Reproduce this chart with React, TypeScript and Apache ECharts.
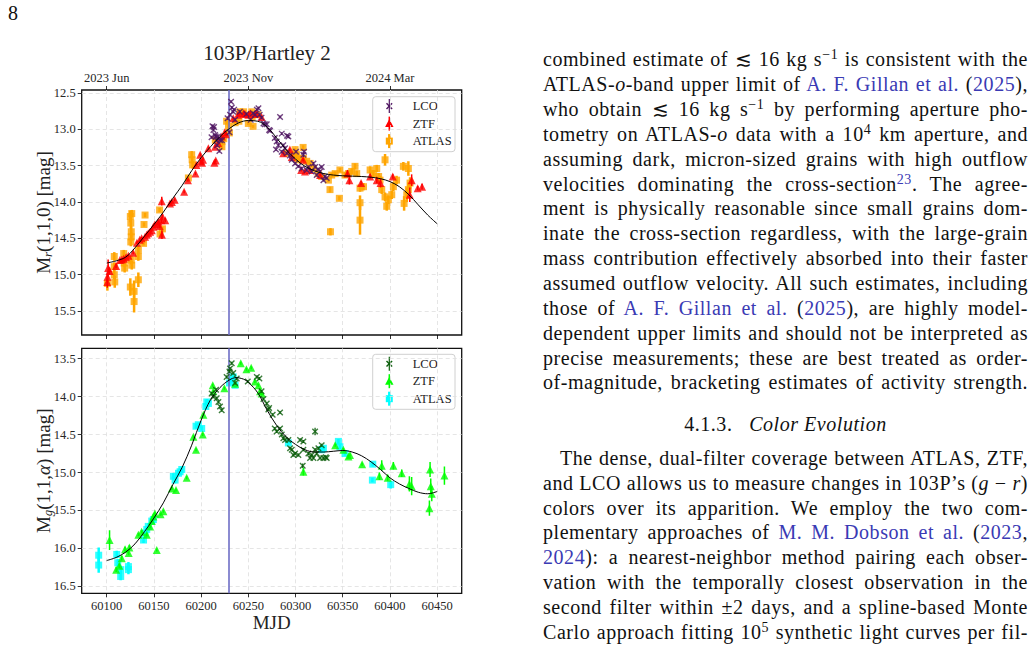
import React, { useEffect, useRef } from "react";
import * as echarts from "echarts";

type Pt = [number, number, number]; // [MJD, magnitude, error]

// ---------- axis definitions ----------
const X_MIN = 60073.5;
const X_MAX = 60476;
const TOP_MAG_MIN = 12.46;
const TOP_MAG_MAX = 15.83;
const BOT_MAG_MIN = 13.363;
const BOT_MAG_MAX = 16.592;
const MJD_TICKS = [60100, 60150, 60200, 60250, 60300, 60350, 60400, 60450];
const DATE_TICKS = [60100, 60250, 60400];
const DATE_LABELS = ["2023 Jun", "2023 Nov", "2024 Mar"];
const TOP_MAG_TICKS = [12.5, 13.0, 13.5, 14.0, 14.5, 15.0, 15.5];
const BOT_MAG_TICKS = [13.5, 14.0, 14.5, 15.0, 15.5, 16.0, 16.5];
const PERIHELION_MJD = 60229;

// ---------- r-band (top panel) ----------
const topLCO: Pt[] = [
  [60211, 13.11, 0.02], [60212, 12.96, 0.02], [60213, 13.01, 0.02], [60213.7, 12.97, 0.02],
  [60214.8, 13.08, 0.02], [60215.5, 13.10, 0.02], [60216.5, 13.15, 0.02], [60217, 13.22, 0.02],
  [60218, 13.10, 0.02], [60218.5, 13.13, 0.02], [60219.3, 13.30, 0.02], [60220, 13.15, 0.02],
  [60222, 13.15, 0.02], [60228, 12.85, 0.02], [60230.6, 12.80, 0.02], [60231.7, 12.62, 0.02],
  [60232.5, 12.70, 0.02], [60234, 12.76, 0.02], [60235, 12.73, 0.02], [60236, 12.87, 0.02],
  [60230, 13.04, 0.02], [60241, 12.76, 0.02], [60248, 12.79, 0.02], [60252.5, 12.87, 0.02],
  [60255, 12.78, 0.02], [60257, 12.80, 0.02], [60259, 12.73, 0.02], [60260.7, 12.71, 0.02],
  [60262, 12.80, 0.02], [60264, 12.84, 0.02], [60266, 12.92, 0.02], [60267.5, 12.93, 0.02],
  [60269.5, 12.93, 0.02], [60272, 13.01, 0.02], [60273, 13.02, 0.02], [60278, 13.12, 0.02],
  [60279.3, 13.28, 0.02], [60280, 13.17, 0.02], [60281.8, 13.22, 0.02], [60283.6, 12.83, 0.02],
  [60285.3, 13.31, 0.02], [60285.4, 13.06, 0.02], [60287, 13.22, 0.02], [60288.9, 13.26, 0.02],
  [60290.6, 13.33, 0.02], [60291, 13.09, 0.02], [60292.4, 13.10, 0.02], [60294, 13.36, 0.02],
  [60296, 13.42, 0.02], [60299.5, 13.47, 0.02], [60300.5, 13.31, 0.02], [60303, 13.51, 0.02],
  [60306.5, 13.54, 0.02], [60308.3, 13.35, 0.03], [60309, 13.31, 0.03], [60311.8, 13.56, 0.02],
  [60313.6, 13.52, 0.02], [60317, 13.58, 0.02], [60319, 13.47, 0.02], [60320.7, 13.52, 0.02],
  [60322.4, 13.63, 0.02], [60324, 13.55, 0.02], [60326, 13.58, 0.02], [60327.7, 13.52, 0.02],
  [60329.5, 13.70, 0.02], [60331, 13.65, 0.02], [60333, 13.67, 0.02],
];

const topZTF: Pt[] = [
  [60100.6, 15.10, 0.08], [60100.8, 15.03, 0.06], [60101.5, 14.91, 0.12], [60103, 14.95, 0.05],
  [60109.9, 14.88, 0.03], [60114, 14.80, 0.02], [60116, 14.79, 0.02], [60118, 14.78, 0.02],
  [60120.5, 14.76, 0.02], [60123, 14.74, 0.02], [60128, 14.70, 0.02], [60132, 14.56, 0.02],
  [60135, 14.52, 0.02], [60137, 14.50, 0.02], [60140.6, 14.48, 0.02], [60142.4, 14.45, 0.02],
  [60144, 14.43, 0.02], [60146, 14.41, 0.02], [60147.7, 14.39, 0.02], [60149.4, 14.34, 0.02],
  [60151, 14.31, 0.02], [60153.7, 14.30, 0.02], [60154.7, 14.27, 0.02], [60156, 14.33, 0.03],
  [60158, 14.25, 0.04], [60158.3, 13.99, 0.06], [60158.5, 14.45, 0.06], [60159, 14.20, 0.03],
  [60162, 14.25, 0.03], [60167, 14.02, 0.02], [60169, 14.00, 0.02], [60172, 13.97, 0.02],
  [60182, 13.86, 0.02], [60186, 13.70, 0.02], [60194, 13.61, 0.02], [60195, 13.49, 0.02],
  [60199, 13.35, 0.02], [60199.6, 13.44, 0.02], [60201, 13.46, 0.02], [60202, 13.42, 0.02],
  [60207.7, 13.26, 0.02], [60214, 13.46, 0.02], [60214.8, 13.24, 0.02], [60215.5, 13.43, 0.02],
  [60218, 13.19, 0.02], [60222, 13.10, 0.02], [60225, 13.04, 0.02], [60226, 13.07, 0.02],
  [60234, 12.85, 0.02], [60239, 12.80, 0.02], [60241, 12.78, 0.02], [60245, 12.78, 0.02],
  [60246.5, 12.79, 0.02], [60250, 12.80, 0.02], [60252, 12.78, 0.02], [60257, 12.79, 0.02],
  [60259, 12.78, 0.02], [60264, 12.83, 0.02], [60287, 13.33, 0.02], [60294, 13.28, 0.02],
  [60296, 13.38, 0.02], [60306, 13.56, 0.02], [60308, 13.42, 0.02], [60310, 13.58, 0.02],
  [60315, 13.56, 0.02], [60326, 13.63, 0.02], [60355, 13.61, 0.05], [60357, 13.70, 0.06],
  [60369.4, 13.74, 0.03], [60379, 13.65, 0.03], [60386, 13.70, 0.04], [60390, 13.74, 0.06],
  [60403, 13.65, 0.03], [60421, 13.90, 0.10], [60423, 13.70, 0.08], [60429.4, 13.81, 0.03],
  [60434, 13.79, 0.04],
];

const topATLAS: Pt[] = [
  [60100.7, 15.12, 0.10], [60108, 14.75, 0.06], [60108, 14.89, 0.06], [60108, 15.00, 0.06],
  [60108.5, 15.10, 0.08], [60118, 14.71, 0.05], [60118.5, 14.84, 0.05], [60119, 14.91, 0.06],
  [60125, 14.20, 0.08], [60125.5, 14.29, 0.08], [60126, 14.41, 0.08], [60126, 14.48, 0.06],
  [60125.5, 14.55, 0.06], [60126.5, 14.16, 0.05], [60126, 14.80, 0.06], [60126.5, 14.87, 0.06],
  [60125, 15.17, 0.12], [60129, 15.23, 0.15], [60129, 15.37, 0.15], [60133.5, 14.66, 0.06],
  [60133.5, 14.75, 0.06], [60133.5, 15.07, 0.10], [60140.6, 14.18, 0.03], [60139.5, 14.31, 0.03],
  [60139, 14.57, 0.03], [60156, 14.11, 0.03], [60156.5, 14.44, 0.03], [60159, 14.37, 0.03],
  [60186.5, 13.67, 0.03], [60190, 13.35, 0.05], [60190.5, 13.42, 0.05], [60191, 13.49, 0.05],
  [60215, 13.15, 0.03], [60222, 13.17, 0.03], [60222, 13.24, 0.03], [60224, 13.13, 0.03],
  [60227, 12.89, 0.03], [60229, 12.96, 0.03], [60230, 13.05, 0.03], [60236, 12.91, 0.02],
  [60240, 12.89, 0.02], [60241, 12.76, 0.02], [60245, 12.76, 0.02], [60250, 12.92, 0.02],
  [60253.6, 12.76, 0.02], [60254, 12.83, 0.02], [60255, 12.96, 0.02], [60260, 12.80, 0.02],
  [60290.7, 13.33, 0.02], [60297.7, 13.35, 0.02], [60299.5, 13.28, 0.02], [60301.2, 13.35, 0.02],
  [60302, 13.40, 0.02], [60303, 13.42, 0.02], [60308, 13.25, 0.03], [60308.3, 13.40, 0.02],
  [60311.8, 13.44, 0.02], [60315.4, 13.47, 0.02], [60319, 13.54, 0.02], [60324, 13.61, 0.02],
  [60327.7, 13.65, 0.02], [60334.8, 13.70, 0.03], [60336.5, 13.83, 0.04], [60337, 14.41, 0.05],
  [60338.3, 13.63, 0.03], [60342, 13.61, 0.03], [60346.4, 13.95, 0.03], [60347, 13.56, 0.03],
  [60352.4, 13.63, 0.04], [60356, 13.61, 0.04], [60359.5, 13.58, 0.04], [60363, 13.51, 0.04],
  [60364.8, 13.61, 0.04], [60368.3, 13.81, 0.05], [60368.3, 14.01, 0.10], [60368.3, 14.25, 0.20],
  [60372, 13.79, 0.05], [60379, 13.56, 0.05], [60382.5, 13.61, 0.05], [60386, 13.54, 0.05],
  [60388, 13.65, 0.05], [60389.5, 13.70, 0.06], [60391.3, 13.83, 0.06], [60394.8, 13.42, 0.08],
  [60394.8, 13.93, 0.06], [60396.6, 14.06, 0.06], [60398.3, 13.97, 0.06], [60401.9, 13.90, 0.06],
  [60403.6, 13.79, 0.06], [60407, 13.70, 0.06], [60414.2, 13.51, 0.06], [60415, 14.02, 0.10],
  [60417.8, 13.90, 0.10], [60419.5, 13.54, 0.10], [60419.5, 13.83, 0.10], [60421.3, 13.74, 0.08],
];

const topFitMjd = [60100, 60110, 60120, 60130, 60140, 60150, 60160, 60170, 60180, 60190, 60200, 60210,
  60220, 60230, 60240, 60250, 60260, 60270, 60280, 60290, 60300, 60310, 60320, 60330, 60340, 60350,
  60360, 60370, 60380, 60390, 60400, 60410, 60420, 60430, 60440, 60450];
const topFitMag = [14.84, 14.81, 14.76, 14.63, 14.47, 14.31, 14.14, 13.95, 13.77, 13.57, 13.39, 13.24,
  13.10, 12.99, 12.91, 12.88, 12.89, 12.97, 13.12, 13.28, 13.41, 13.51, 13.57, 13.61, 13.63, 13.64,
  13.645, 13.65, 13.66, 13.68, 13.72, 13.79, 13.90, 14.04, 14.18, 14.30];

// ---------- g-band (bottom panel) ----------
const botLCO: Pt[] = [
  [60211.2, 13.96, 0.02], [60213, 14.00, 0.02], [60215.8, 13.91, 0.02], [60216.5, 14.02, 0.02],
  [60218.3, 14.07, 0.02], [60220, 14.13, 0.02], [60221.8, 14.18, 0.02], [60227, 13.74, 0.02],
  [60230, 13.67, 0.02], [60230.6, 13.63, 0.02], [60232.4, 13.56, 0.02], [60234, 13.69, 0.02],
  [60236, 13.82, 0.02], [60237.7, 13.76, 0.02], [60249.4, 13.80, 0.02], [60259, 13.74, 0.02],
  [60261.7, 13.76, 0.02], [60264, 13.93, 0.02], [60266, 14.03, 0.02], [60269.5, 14.09, 0.02],
  [60271.2, 14.17, 0.02], [60272, 14.15, 0.02], [60275.8, 14.24, 0.02], [60278, 14.42, 0.02],
  [60280, 14.46, 0.02], [60283.6, 14.21, 0.02], [60283.6, 14.42, 0.02], [60285.4, 14.50, 0.02],
  [60287.1, 14.55, 0.02], [60288.9, 14.57, 0.02], [60292.4, 14.57, 0.02], [60294.2, 14.68, 0.02],
  [60296, 14.70, 0.02], [60297.7, 14.77, 0.02], [60299.5, 14.75, 0.02], [60303, 14.77, 0.02],
  [60304.8, 14.57, 0.02], [60307.6, 14.91, 0.03], [60308.3, 14.59, 0.02], [60308.3, 14.70, 0.02],
  [60313.6, 14.75, 0.02], [60315.4, 14.81, 0.02], [60317.1, 14.77, 0.02], [60318.9, 14.81, 0.02],
  [60320.7, 14.46, 0.05], [60320.7, 14.70, 0.02], [60322.4, 14.75, 0.02], [60324.2, 14.68, 0.02],
  [60326, 14.81, 0.02], [60327.7, 14.64, 0.02], [60329.5, 14.81, 0.02], [60332, 14.80, 0.02],
  [60333, 14.81, 0.02],
];

const botZTF: Pt[] = [
  [60103, 15.89, 0.13], [60110, 16.28, 0.03], [60113.4, 16.23, 0.03], [60115.9, 16.13, 0.03],
  [60119.4, 16.01, 0.03], [60123.3, 16.06, 0.03], [60124, 15.99, 0.03], [60133.5, 15.82, 0.02],
  [60137, 15.78, 0.02], [60142.4, 15.82, 0.02], [60146, 15.71, 0.02], [60147.7, 15.64, 0.02],
  [60149.4, 15.58, 0.02], [60151, 15.54, 0.02], [60153, 16.02, 0.02], [60157, 15.55, 0.02],
  [60160, 15.51, 0.02], [60169, 15.21, 0.02], [60173.4, 15.23, 0.02], [60184.7, 15.07, 0.02],
  [60191.8, 14.53, 0.02], [60194.6, 14.70, 0.02], [60201.7, 14.50, 0.02], [60202.4, 14.24, 0.02],
  [60212.3, 13.85, 0.02], [60213, 13.93, 0.02], [60224.6, 13.89, 0.02], [60236, 13.83, 0.02],
  [60242, 13.56, 0.02], [60248, 13.64, 0.02], [60253, 13.62, 0.02], [60257, 13.80, 0.02],
  [60260.7, 13.85, 0.02], [60262.4, 13.93, 0.02], [60264.2, 13.96, 0.02], [60308.3, 14.99, 0.05],
  [60342, 14.64, 0.02], [60350.7, 14.70, 0.02], [60356, 14.79, 0.02], [60357.7, 14.77, 0.02],
  [60370.5, 14.89, 0.02], [60388.8, 15.05, 0.05], [60391.3, 14.91, 0.07], [60397.6, 15.07, 0.04],
  [60403.6, 14.91, 0.05], [60412.5, 15.01, 0.05], [60420.6, 15.15, 0.10], [60423, 15.18, 0.12],
  [60441.8, 15.47, 0.10], [60442.5, 14.96, 0.10], [60443.2, 15.18, 0.10], [60444.3, 15.28, 0.10],
  [60457.7, 15.04, 0.12],
];

const botATLAS: Pt[] = [
  [60091.5, 16.09, 0.10], [60091.5, 16.22, 0.10], [60110.6, 16.08, 0.05], [60111.7, 16.19, 0.05],
  [60114.8, 16.28, 0.05], [60114.8, 16.37, 0.05], [60123, 16.24, 0.06], [60123, 16.28, 0.06],
  [60139, 15.89, 0.04], [60140.6, 15.80, 0.04], [60142.4, 15.75, 0.04], [60144, 15.71, 0.04],
  [60147.7, 15.64, 0.04], [60149.4, 15.62, 0.04], [60170.6, 15.05, 0.04], [60172.4, 15.10, 0.04],
  [60176, 15.01, 0.04], [60177.7, 14.99, 0.04], [60179.5, 14.96, 0.04], [60194.6, 14.39, 0.03],
  [60197, 14.37, 0.03], [60200.6, 14.42, 0.03], [60205, 14.13, 0.04], [60206, 14.07, 0.04],
  [60207.7, 14.09, 0.04], [60230, 13.82, 0.03], [60232.4, 13.78, 0.03], [60234, 13.74, 0.03],
  [60236, 13.85, 0.03], [60292.4, 14.61, 0.03], [60327.7, 14.70, 0.03], [60329.5, 14.68, 0.03],
  [60345.4, 14.59, 0.03], [60347, 14.66, 0.03], [60352.4, 14.75, 0.03], [60381.4, 15.10, 0.03],
  [60381.8, 14.89, 0.03], [60400.8, 15.16, 0.05],
];

const botFitMjd = [60100, 60110, 60120, 60130, 60140, 60150, 60160, 60170, 60180, 60190, 60200, 60210,
  60220, 60230, 60237, 60245, 60250, 60260, 60270, 60280, 60290, 60300, 60310, 60320, 60330, 60340,
  60350, 60360, 60370, 60380, 60390, 60400, 60410, 60420, 60430, 60440, 60450];
const botFitMag = [16.16, 16.12, 16.05, 15.94, 15.78, 15.60, 15.40, 15.16, 14.93, 14.64, 14.31, 14.04,
  13.88, 13.78, 13.75, 13.77, 13.81, 13.95, 14.18, 14.38, 14.53, 14.63, 14.70, 14.73, 14.73, 14.72,
  14.71, 14.73, 14.78, 14.86, 14.96, 15.07, 15.15, 15.21, 15.26, 15.28, 15.25];

// ---------- styling ----------
const FONT = "'Liberation Serif', 'DejaVu Serif', serif";
const C_LCO_R = "#4f1561";
const C_ZTF_R = "#ff0000";
const C_ATLAS_R = "#ffa500";
const C_LCO_G = "#0b5e0b";
const C_ZTF_G = "#00ff00";
const C_ATLAS_G = "#00ffff";
const C_PERI = "#6e6ec6";
const X_SYMBOL = "path://M0,0L10,10M10,0L0,10";

function errBars(data: Pt[], xi: number, yi: number, color: string, width: number, z: number) {
  return {
    type: "custom",
    xAxisIndex: xi,
    yAxisIndex: yi,
    z,
    silent: true,
    clip: true,
    data,
    encode: { x: 0, y: 1 },
    renderItem: (_p: any, api: any) => {
      const x = api.value(0);
      const y = api.value(1);
      const e = api.value(2);
      const a = api.coord([x, y - e]);
      const b = api.coord([x, y + e]);
      return {
        type: "line",
        shape: { x1: a[0], y1: a[1], x2: b[0], y2: b[1] },
        style: { stroke: color, lineWidth: width },
      };
    },
  };
}

function markers(data: Pt[], xi: number, yi: number, color: string, kind: string, z: number) {
  const base: any = {
    type: "scatter",
    xAxisIndex: xi,
    yAxisIndex: yi,
    z,
    silent: true,
    data: data.map((d) => [d[0], d[1]]),
    emphasis: { disabled: true },
  };
  if (kind === "x") {
    base.symbol = X_SYMBOL;
    base.symbolSize = 5.5;
    base.itemStyle = { color: "rgba(0,0,0,0)", borderColor: color, borderWidth: 1.4 };
  } else if (kind === "tri") {
    base.symbol = "triangle";
    base.symbolSize = 8;
    base.itemStyle = { color };
  } else {
    base.symbol = "rect";
    base.symbolSize = 7;
    base.itemStyle = { color };
  }
  return base;
}

function fitLine(mjd: number[], mag: number[], xi: number, yi: number) {
  return {
    type: "line",
    xAxisIndex: xi,
    yAxisIndex: yi,
    z: 9,
    silent: true,
    smooth: 0.35,
    showSymbol: false,
    data: mjd.map((m, i) => [m, mag[i]]),
    lineStyle: { color: "#000", width: 1 },
    markLine: {
      silent: true,
      symbol: "none",
      label: { show: false },
      lineStyle: { color: C_PERI, width: 1.6, type: "solid" },
      data: [{ xAxis: PERIHELION_MJD }],
    },
  };
}

function legendGroup(top: number, items: { label: string; color: string; kind: string; w: number }[]) {
  const x0 = 372.7;
  const mx = 389.3;
  const children: any[] = [
    {
      type: "rect",
      shape: { x: x0, y: top, width: 82.3, height: 55, r: 3 },
      style: { fill: "rgba(255,255,255,0.85)", stroke: "#d0d0d0", lineWidth: 1 },
    },
  ];
  items.forEach((it, i) => {
    const cy = top + 9.4 + i * 17.5;
    children.push({
      type: "line",
      shape: { x1: mx, y1: cy - 7, x2: mx, y2: cy + 7 },
      style: { stroke: it.color, lineWidth: it.w },
    });
    if (it.kind === "x") {
      children.push({ type: "line", shape: { x1: mx - 2.8, y1: cy - 2.8, x2: mx + 2.8, y2: cy + 2.8 }, style: { stroke: it.color, lineWidth: 1.4 } });
      children.push({ type: "line", shape: { x1: mx + 2.8, y1: cy - 2.8, x2: mx - 2.8, y2: cy + 2.8 }, style: { stroke: it.color, lineWidth: 1.4 } });
    } else if (it.kind === "tri") {
      children.push({ type: "polygon", shape: { points: [[mx, cy - 4.5], [mx - 4.2, cy + 3.5], [mx + 4.2, cy + 3.5]] }, style: { fill: it.color } });
    } else {
      children.push({ type: "rect", shape: { x: mx - 3.5, y: cy - 3.5, width: 7, height: 7 }, style: { fill: it.color } });
    }
    children.push({
      type: "text",
      x: 412.7,
      y: cy,
      style: { text: it.label, fill: "#222", fontSize: 12.5, fontFamily: FONT, verticalAlign: "middle", align: "left" },
    });
  });
  return { type: "group", z: 100, children };
}

const NAME_FS = 19;
const nameRich = {
  a: { fontFamily: FONT, fontSize: NAME_FS, fill: "#222", lineHeight: 22 },
  b: { fontFamily: FONT, fontSize: 13, fontStyle: "italic", fill: "#222", lineHeight: 8, verticalAlign: "bottom" },
  c: { fontFamily: FONT, fontSize: NAME_FS, fontStyle: "italic", fill: "#222", lineHeight: 22 },
};

function yLabel(text: string, cx: number, cy: number) {
  return {
    type: "text",
    x: cx,
    y: cy,
    rotation: Math.PI / 2,
    z: 100,
    style: { text, fill: "#222", fontSize: NAME_FS, fontFamily: FONT, align: "center", verticalAlign: "middle", rich: nameRich },
  };
}

const tickStyle = { show: true, inside: false, length: 4, lineStyle: { color: "#000", width: 0.8 } };
const labelStyle = { color: "#262626", fontFamily: FONT, fontSize: 12.5, margin: 6 };
const splitStyle = { show: true, lineStyle: { color: "#dedede", width: 0.8, type: [4, 3] } };

function buildOption() {
  const grids = [
    { left: 81.7, top: 90, width: 380, height: 245 },
    { left: 81.7, top: 348.3, width: 380, height: 245 },
  ].map((g) => ({ ...g, show: true, borderColor: "#111", borderWidth: 1.3, backgroundColor: "transparent", containLabel: false }));

  const magFmt = (v: number) => (Math.abs(v * 2 - Math.round(v * 2)) < 1e-6 ? v.toFixed(1) : "");

  return {
    animation: false,
    textStyle: { fontFamily: FONT },
    grid: grids,
    xAxis: [
      {
        type: "value", gridIndex: 0, position: "bottom", min: X_MIN, max: X_MAX, minInterval: 50, maxInterval: 50,
        axisLine: { show: false }, axisTick: { ...tickStyle, customValues: MJD_TICKS }, axisLabel: { show: false },
        splitLine: splitStyle,
      },
      {
        type: "value", gridIndex: 0, position: "top", min: X_MIN, max: X_MAX, minInterval: 50, maxInterval: 50,
        axisLine: { show: false }, axisTick: { ...tickStyle, customValues: DATE_TICKS },
        axisLabel: {
          ...labelStyle, customValues: DATE_TICKS,
          formatter: (v: number) => { const i = DATE_TICKS.indexOf(v); return i >= 0 ? DATE_LABELS[i] : ""; },
        },
        splitLine: { show: false },
      },
      {
        type: "value", gridIndex: 1, position: "bottom", min: X_MIN, max: X_MAX, minInterval: 50, maxInterval: 50,
        axisLine: { show: false }, axisTick: { ...tickStyle, customValues: MJD_TICKS },
        axisLabel: { ...labelStyle, customValues: MJD_TICKS, formatter: (v: number) => (v % 50 === 0 ? String(v) : "") },
        splitLine: splitStyle,
        name: "MJD", nameLocation: "middle", nameGap: 16,
        nameTextStyle: { fontFamily: FONT, fontSize: NAME_FS, color: "#222" },
      },
    ],
    yAxis: [
      {
        type: "value", gridIndex: 0, inverse: true, min: TOP_MAG_MIN, max: TOP_MAG_MAX, minInterval: 0.5, maxInterval: 0.5,
        axisLine: { show: false }, axisTick: { ...tickStyle, customValues: TOP_MAG_TICKS },
        axisLabel: { ...labelStyle, customValues: TOP_MAG_TICKS, formatter: magFmt },
        splitLine: splitStyle,
      },
      {
        type: "value", gridIndex: 1, inverse: true, min: BOT_MAG_MIN, max: BOT_MAG_MAX, minInterval: 0.5, maxInterval: 0.5,
        axisLine: { show: false }, axisTick: { ...tickStyle, customValues: BOT_MAG_TICKS },
        axisLabel: { ...labelStyle, customValues: BOT_MAG_TICKS, formatter: magFmt },
        splitLine: splitStyle,
      },
    ],
    graphic: [
      {
        type: "text", x: 267, y: 53, z: 100,
        style: { text: "103P/Hartley 2", fill: "#222", fontSize: 21, fontFamily: FONT, align: "center", verticalAlign: "middle" },
      },
      yLabel("{a|M}{b|r}{a|(1,1,0) [mag]}", 43, 212.5),
      yLabel("{a|M}{b|g}{a|(1,1,}{c|α}{a|) [mag]}", 43, 470.8),
      legendGroup(96.7, [
        { label: "LCO", color: C_LCO_R, kind: "x", w: 1.2 },
        { label: "ZTF", color: C_ZTF_R, kind: "tri", w: 1.5 },
        { label: "ATLAS", color: C_ATLAS_R, kind: "sq", w: 2.5 },
      ]),
      legendGroup(354.3, [
        { label: "LCO", color: C_LCO_G, kind: "x", w: 1.2 },
        { label: "ZTF", color: C_ZTF_G, kind: "tri", w: 1.5 },
        { label: "ATLAS", color: C_ATLAS_G, kind: "sq", w: 2.5 },
      ]),
    ],
    series: [
      errBars(topATLAS, 0, 0, C_ATLAS_R, 2.5, 2),
      markers(topATLAS, 0, 0, C_ATLAS_R, "sq", 3),
      errBars(topZTF, 0, 0, C_ZTF_R, 1.5, 4),
      markers(topZTF, 0, 0, C_ZTF_R, "tri", 5),
      errBars(topLCO, 0, 0, C_LCO_R, 1.2, 6),
      markers(topLCO, 0, 0, C_LCO_R, "x", 7),
      fitLine(topFitMjd, topFitMag, 0, 0),
      errBars(botATLAS, 2, 1, C_ATLAS_G, 2.5, 2),
      markers(botATLAS, 2, 1, C_ATLAS_G, "sq", 3),
      errBars(botZTF, 2, 1, C_ZTF_G, 1.5, 4),
      markers(botZTF, 2, 1, C_ZTF_G, "tri", 5),
      errBars(botLCO, 2, 1, C_LCO_G, 1.2, 6),
      markers(botLCO, 2, 1, C_LCO_G, "x", 7),
      fitLine(botFitMjd, botFitMag, 2, 1),
    ],
  };
}

// ---------- page text ----------
const LINK = "#3a3ab4";
const LINE_H = 24.85;
const TEXT_LEFT = 543;
const TEXT_W = 485;
const FS = 20;
const LS = "0.55px";
const BASE_OFF = 19.2; // distance from line-box top to baseline

const L = ({ children }: { children: React.ReactNode }) => <span style={{ color: LINK }}>{children}</span>;
const Sup = ({ children, color }: { children: React.ReactNode; color?: string }) => (
  <span style={{ fontSize: "0.7em", position: "relative", top: "-0.5em", color: color || "inherit", lineHeight: 0 }}>{children}</span>
);

function Line({ baseline, children, indent = 0 }: { baseline: number; children: React.ReactNode; indent?: number }) {
  return (
    <div
      style={{
        position: "absolute",
        left: TEXT_LEFT + indent,
        top: baseline - BASE_OFF,
        width: TEXT_W - indent,
        height: LINE_H,
        lineHeight: `${LINE_H}px`,
        fontSize: FS,
        letterSpacing: LS,
        whiteSpace: "nowrap",
        textAlign: "justify",
        textAlignLast: "justify",
        color: "#111",
      }}
    >
      {children}
    </div>
  );
}

const P1 = 66.5;
const P2 = 465;

export default function App() {
  const ref = useRef<HTMLDivElement>(null);
  useEffect(() => {
    const chart = echarts.init(ref.current as HTMLDivElement, null, { renderer: "svg" });
    chart.setOption(buildOption() as any);
    return () => chart.dispose();
  }, []);

  const p1 = [
    <>combined estimate of ≲ 16 kg s<Sup>−1</Sup> is consistent with the</>,
    <>ATLAS-<i>o</i>-band upper limit of <L>A. F. Gillan et al.</L> (<L>2025</L>),</>,
    <>who obtain ≲ 16 kg s<Sup>−1</Sup> by performing aperture pho-</>,
    <>tometry on ATLAS-<i>o</i> data with a 10<Sup>4</Sup> km aperture, and</>,
    <>assuming dark, micron-sized grains with high outflow</>,
    <>velocities dominating the cross-section<Sup color={LINK}>23</Sup>. The agree-</>,
    <>ment is physically reasonable since small grains dom-</>,
    <>inate the cross-section regardless, with the large-grain</>,
    <>mass contribution effectively absorbed into their faster</>,
    <>assumed outflow velocity. All such estimates, including</>,
    <>those of <L>A. F. Gillan et al.</L> (<L>2025</L>), are highly model-</>,
    <>dependent upper limits and should not be interpreted as</>,
    <>precise measurements; these are best treated as order-</>,
    <>of-magnitude, bracketing estimates of activity strength.</>,
  ];
  const p2 = [
    <>The dense, dual-filter coverage between ATLAS, ZTF,</>,
    <>and LCO allows us to measure changes in 103P’s (<i>g</i> − <i>r</i>)</>,
    <>colors over its apparition. We employ the two com-</>,
    <>plementary approaches of <L>M. M. Dobson et al.</L> (<L>2023</L>,</>,
    <><L>2024</L>): a nearest-neighbor method pairing each obser-</>,
    <>vation with the temporally closest observation in the</>,
    <>second filter within ±2 days, and a spline-based Monte</>,
    <>Carlo approach fitting 10<Sup>5</Sup> synthetic light curves per fil-</>,
  ];

  return (
    <div
      style={{
        position: "fixed",
        left: 0,
        top: 0,
        width: 1035,
        height: 651,
        overflow: "hidden",
        background: "#fff",
        fontFamily: FONT,
      }}
    >
      <div style={{ position: "absolute", left: 8, top: 20 - BASE_OFF, fontSize: FS, lineHeight: `${LINE_H}px`, color: "#111" }}>8</div>
      <div ref={ref} style={{ position: "absolute", left: 0, top: 0, width: 540, height: 651 }} />
      {p1.map((c, i) => (
        <Line key={"a" + i} baseline={P1 + i * LINE_H}>{c}</Line>
      ))}
      <div
        style={{
          position: "absolute",
          left: TEXT_LEFT,
          top: 430.7 - BASE_OFF,
          width: TEXT_W,
          lineHeight: `${LINE_H}px`,
          fontSize: FS,
          letterSpacing: LS,
          textAlign: "center",
          color: "#111",
        }}
      >
        4.1.3.&nbsp;&nbsp; <i>Color Evolution</i>
      </div>
      {p2.map((c, i) => (
        <Line key={"b" + i} baseline={P2 + i * LINE_H} indent={i === 0 ? 17 : 0}>{c}</Line>
      ))}
    </div>
  );
}
